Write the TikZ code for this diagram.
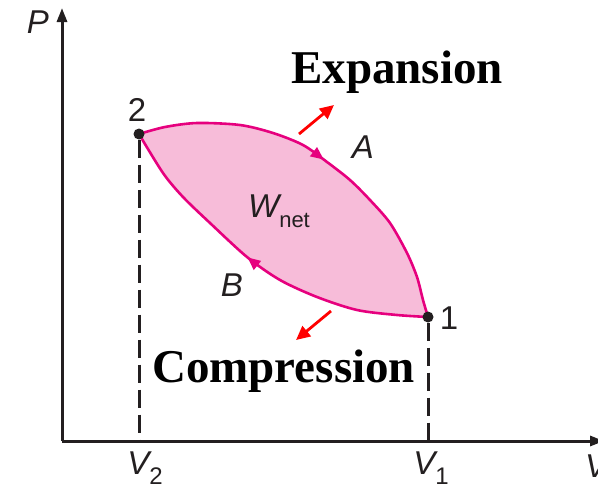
\documentclass[tikz,border=0pt]{standalone}
\usepackage{fontspec}
\setmainfont{Liberation Serif}
\newfontfamily\lblfont{Liberation Sans}
\usetikzlibrary{arrows.meta,decorations.markings}
\definecolor{lensfill}{HTML}{F7BCD9}
\definecolor{lensline}{HTML}{E6007E}
\definecolor{axisblack}{HTML}{231F20}
\begin{document}
\begin{tikzpicture}[x=1pt,y=-1pt,
 axis/.style={line width=3pt, draw=axisblack, -{Triangle[length=14pt,width=10pt]}},
 guide/.style={line width=3pt, draw=axisblack, dash pattern=on 18pt off 7pt},
 cycleline/.style={line width=2.6pt, draw=lensline},
 lbl/.style={font=\lblfont\itshape\fontsize{33}{33}\selectfont, inner sep=0pt, text=axisblack},
 num/.style={font=\lblfont\fontsize{33}{33}\selectfont, inner sep=0pt, text=axisblack},
 big/.style={font=\bfseries\fontsize{47}{47}\selectfont, inner sep=0pt, anchor=base west},
 dirarrow/.style={line width=2.8pt, draw=red, -{Triangle[length=14pt,width=13pt]}},
 dot/.style={circle, fill=axisblack, inner sep=0pt, minimum size=11pt},
]
\useasboundingbox (0,0) rectangle (598,491);
% axes
\coordinate (o) at (62,441);
\coordinate (ytop) at (62,8);
\coordinate (xend) at (604,441);
\draw[axis] (o) -- (ytop);
\draw[axis] (o) -- (xend);
% lens fill
\fill[lensfill] plot[smooth] coordinates {(139,134) (165,127) (197,123) (240,125) (273,133) (303,145) (327,162) (350,180) (370,200) (390,223) (407,253) (417,277) (423,300) (428,317)}
  -- plot[smooth] coordinates {(428,317) (397,315) (357,310) (317,297) (280,280) (247,257) (210,223) (183,197) (163,173) (139,134)} -- cycle;
% process A
\draw[cycleline, postaction={decorate}, decoration={markings, mark=at position 0.5 with {\arrow[lensline]{Triangle[length=13pt,width=11pt]}}}]
  plot[smooth] coordinates {(139,134) (165,127) (197,123) (240,125) (273,133) (303,145) (327,162) (350,180) (370,200) (390,223) (407,253) (417,277) (423,300) (428,317)};
% process B
\draw[cycleline, postaction={decorate}, decoration={markings, mark=at position 0.54 with {\arrow[lensline]{Triangle[length=13pt,width=11pt]}}}]
  plot[smooth] coordinates {(428,317) (397,315) (357,310) (317,297) (280,280) (247,257) (210,223) (183,197) (163,173) (139,134)};
% state points
\node[dot] (p2) at (139,134) {};
\node[dot] (p1) at (428,317) {};
\coordinate (v2) at (139,441);
\coordinate (v1) at (428,441);
\draw[guide] (p2) -- (v2);
\draw[guide] (p1) -- (v1);
% labels
\node[lbl] (lp) at (38,22) {P};
\node[num] (l2) at (137,110) {2};
\node[num] (l1) at (449,318) {1};
\node[lbl] (la) at (363,147) {A};
\node[lbl] (lb) at (232,285) {B};
\node[lbl] (lw) at (279,211) {W\raisebox{-0.3em}{\upshape\fontsize{22}{22}\selectfont net}};
\node[lbl] (lv2) at (145,468) {V\raisebox{-0.3em}{\upshape\fontsize{24}{24}\selectfont 2}};
\node[lbl] (lv1) at (431,468) {V\raisebox{-0.3em}{\upshape\fontsize{24}{24}\selectfont 1}};
\node[lbl, anchor=west] (lv) at (585,466) {V};
% expansion / compression
\node[big] (exp) at (291,83) {Expansion};
\node[big] (comp) at (152,382) {Compression};
\coordinate (ea) at (299,134);
\coordinate (eb) at (334,105);
\coordinate (ca) at (331,311);
\coordinate (cb) at (296,340);
\draw[dirarrow] (ea) -- (eb);
\draw[dirarrow] (ca) -- (cb);
\end{tikzpicture}
\end{document}
